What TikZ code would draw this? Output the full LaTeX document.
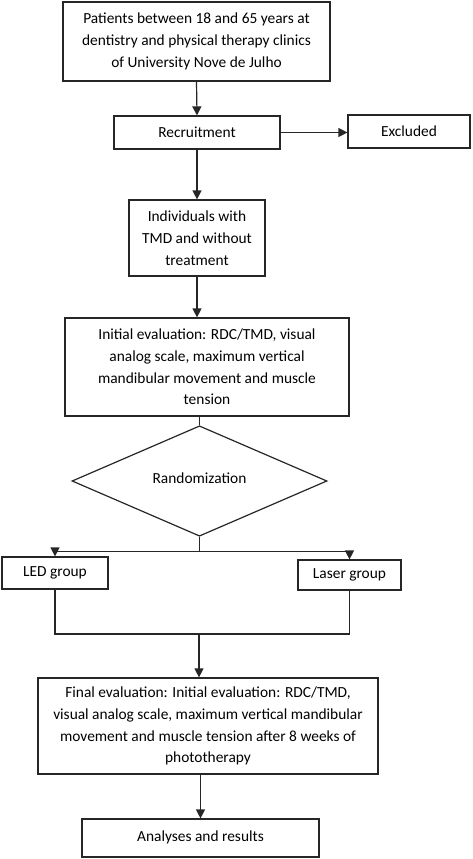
\documentclass[tikz,border=0pt]{standalone}
\usepackage{fontspec}
\setmainfont{Carlito}
\usepackage{tikz}
\usetikzlibrary{shapes.geometric, arrows.meta, positioning, calc}
\tikzset{
  block/.style={rectangle, draw=black!85, line width=1.2pt, fill=white,
                align=center, inner sep=0pt, font=\fontsize{15.4}{21.8}\selectfont},
  decision/.style={diamond, draw=black!85, line width=1.2pt, fill=white,
                   inner sep=0pt, font=\fontsize{15.4}{21.8}\selectfont},
  arrow/.style={-{Triangle[length=9pt, width=9pt]}, line width=1.2pt, draw=black!85},
  link/.style={line width=1.2pt, draw=black!85},
}
\begin{document}
\begin{tikzpicture}[x=1pt, y=1pt]

  \useasboundingbox (0,0) rectangle (472,-859);

  % --- Nodes ---
  \node[block, minimum width=267pt, minimum height=79pt] (patients) at (196.5,-41.5)
    {Patients between 18 and 65 years at\\dentistry and physical therapy clinics\\of University Nove de Julho};

  \node[block, minimum width=166pt, minimum height=33pt] (recruit) at (197,-132.5)
    {Recruitment};

  \node[block, minimum width=122pt, minimum height=33pt] (excluded) at (409,-131.5)
    {Excluded};

  \node[block, minimum width=136pt, minimum height=76pt] (indiv) at (197,-238)
    {Individuals with\\TMD and without\\treatment};

  \node[block, minimum width=284pt, minimum height=98pt] (initial) at (207,-367)
    {Initial evaluation: RDC/TMD, visual\\analog scale, maximum vertical\\mandibular movement and muscle\\tension};

  \node[decision, minimum width=255pt, minimum height=64pt] (rand) at (199.5,-481)
    {\raisebox{6pt}{Randomization}};

  \node[block, minimum width=106pt, minimum height=32pt] (led) at (55,-573)
    {LED group};

  \node[block, minimum width=103pt, minimum height=30pt] (laser) at (349.5,-575)
    {Laser group};

  \node[block, minimum width=340pt, minimum height=96pt] (final) at (208,-726)
    {Final evaluation: Initial evaluation: RDC/TMD,\\visual analog scale, maximum vertical mandibular\\movement and muscle tension after 8 weeks of\\phototherapy};

  \node[block, minimum width=237pt, minimum height=38pt] (analyses) at (200.5,-838)
    {\raisebox{3pt}{Analyses and results}};

  \coordinate (split) at ($(rand.south)+(0,-15)$);
  \coordinate (merge) at (199,-634);

  % --- Edges ---
  \draw[arrow] (patients.south) -- (recruit.north);
  \draw[arrow] (recruit.east) -- (recruit.east -| excluded.west);
  \draw[arrow] (recruit.south) -- (indiv.north);
  \draw[arrow] (indiv.south) -- (indiv.south |- initial.north);
  \draw[link]  (rand.north |- initial.south) -- (rand.north);
  \draw[link]  (rand.south) -- (split);
  \draw[arrow] (split) -| (led.north);
  \draw[arrow] (split) -| (laser.north);
  \draw[link]  (led.south) |- (merge) -| (laser.south);
  \draw[arrow] (merge) -- (merge |- final.north);
  \draw[arrow] (analyses.north |- final.south) -- (analyses.north);

\end{tikzpicture}
\end{document}
